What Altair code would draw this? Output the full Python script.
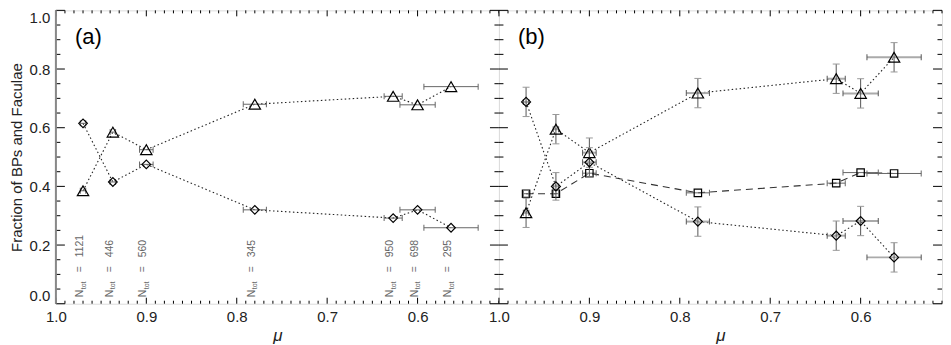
import altair as alt
import pandas as pd

# ---------------- data ----------------
mu = [0.970, 0.937, 0.900, 0.780, 0.627, 0.600, 0.563]
mu_err = [0.003, 0.003, 0.0075, 0.0128, 0.010, 0.0195, 0.030]
n_tot = [1121, 446, 560, 345, 950, 698, 295]

# panel (a)
tri_a = [0.385, 0.585, 0.525, 0.680, 0.707, 0.678, 0.740]
dia_a = [0.615, 0.415, 0.475, 0.320, 0.292, 0.320, 0.259]

# panel (b)
tri_b = [0.310, 0.595, 0.515, 0.718, 0.767, 0.717, 0.840]
tri_b_err = [0.050, 0.050, 0.050, 0.050, 0.050, 0.050, 0.050]
dia_b = [0.688, 0.400, 0.482, 0.280, 0.232, 0.282, 0.158]
dia_b_err = [0.050, 0.047, 0.050, 0.050, 0.050, 0.050, 0.050]
sq_b = [0.375, 0.375, 0.445, 0.378, 0.411, 0.447, 0.444]

x_major = [1.0, 0.9, 0.8, 0.7, 0.6]
x_minor = [round(1.0 - 0.01 * i, 2) for i in range(1, 50) if i % 10]
y_major = [0.0, 0.2, 0.4, 0.6, 0.8, 1.0]
y_minor = [round(0.05 * i, 2) for i in range(21) if i % 4]

W, H = 444, 294
FONT = "Liberation Sans"
xs = alt.Scale(domain=[1.0, 0.51], nice=False, zero=False)
ys = alt.Scale(domain=[0.0, 1.0], nice=False, zero=False)

xaxis = alt.Axis(values=x_major, format=".1f", ticks=False, domain=False, grid=False,
                 labelFontSize=15, labelPadding=6, labelFlush=False, labelOverlap=False,
                 labelColor="#222", title="μ", titleFontSize=17, titleFontStyle="italic",
                 titleFontWeight="normal", titleColor="#222", titlePadding=3)


def yaxis(show):
    if not show:
        return None
    return alt.Axis(values=y_major, format=".1f", ticks=False, domain=False, grid=False,
                    labelFontSize=15, labelPadding=6, labelColor="#222", labelFlush=True,
                    title="Fraction of BPs and Faculae", titleFontSize=15,
                    titleFontWeight="normal", titleColor="#222", titlePadding=5)


def series_df(vals, errs=None):
    d = pd.DataFrame({"mu": mu, "val": vals, "idx": list(range(len(mu)))})
    d["lo"] = [m - e for m, e in zip(mu, mu_err)]
    d["hi"] = [m + e for m, e in zip(mu, mu_err)]
    if errs is not None:
        d["ylo"] = [v - e for v, e in zip(vals, errs)]
        d["yhi"] = [v + e for v, e in zip(vals, errs)]
    return d


def frame_ticks(show_y):
    yt = pd.DataFrame({"v": y_major + y_minor,
                       "major": [True] * len(y_major) + [False] * len(y_minor)})
    xt = pd.DataFrame({"v": x_major + x_minor,
                       "major": [True] * len(x_major) + [False] * len(x_minor)})
    layers = []
    for maj, ly, lx in [(True, 9, 6), (False, 4.5, 3)]:
        ydat = alt.Chart(yt).transform_filter(alt.datum.major == maj)
        xdat = alt.Chart(xt).transform_filter(alt.datum.major == maj)
        st = dict(color="black", strokeWidth=1)
        Yv = alt.Y("v:Q", scale=ys, axis=yaxis(show_y))
        Xv = alt.X("v:Q", scale=xs, axis=xaxis)
        layers.append(ydat.mark_rule(**st).encode(y=Yv, x=alt.value(0), x2=alt.value(ly)))
        layers.append(ydat.mark_rule(**st).encode(y=Yv, x=alt.value(W), x2=alt.value(W - ly)))
        layers.append(xdat.mark_rule(**st).encode(x=Xv, y=alt.value(H), y2=alt.value(H - lx)))
        layers.append(xdat.mark_rule(**st).encode(x=Xv, y=alt.value(0), y2=alt.value(lx)))
    return layers


def series_layers(d, shape, size, dash, show_y, xcol="#666", xw=1, capcol="#666",
                  ycol="#555", ycapcol="#999", line_col="#222", yerr=False):
    X = lambda f: alt.X(f, type="quantitative", scale=xs, axis=xaxis)
    Y = lambda f: alt.Y(f, type="quantitative", scale=ys, axis=yaxis(show_y))
    base = alt.Chart(d)
    layers = []
    layers.append(base.mark_line(strokeDash=dash, strokeWidth=1.1, color=line_col).encode(
        x=X("mu"), y=Y("val"), order="idx:Q"))
    layers.append(base.mark_rule(color=xcol, strokeWidth=xw).encode(
        x=X("lo"), x2="hi", y=Y("val")))
    for f in ["lo", "hi"]:
        layers.append(base.mark_tick(orient="vertical", size=6, thickness=1, color=capcol,
                                     opacity=1).encode(x=X(f), y=Y("val")))
    if yerr:
        layers.append(base.mark_rule(color=ycol, strokeWidth=1).encode(
            x=X("mu"), y=Y("ylo"), y2="yhi"))
        for f in ["ylo", "yhi"]:
            layers.append(base.mark_tick(orient="horizontal", size=7, thickness=1,
                                         color=ycapcol, opacity=1).encode(x=X("mu"), y=Y(f)))
    layers.append(base.mark_point(shape=shape, size=size, filled=False, color="black",
                                  strokeWidth=1.2, opacity=1).encode(x=X("mu"), y=Y("val")))
    return layers


def ntot_layers():
    d = pd.DataFrame({"mu": mu, "n": [str(n) for n in n_tot], "y": [0.022] * len(mu),
                      "N": ["N"] * len(mu), "tot": ["tot"] * len(mu), "eq": ["="] * len(mu)})
    base = alt.Chart(d)
    common = dict(angle=270, align="left", baseline="middle", color="#666", font=FONT)
    enc = dict(x=alt.X("mu:Q", scale=xs, axis=xaxis), y=alt.Y("y:Q", scale=ys, axis=yaxis(True)))
    return [
        base.mark_text(fontSize=10.5, dy=-3, **common).encode(text="N:N", **enc),
        base.mark_text(fontSize=7, dx=8, dy=0.5, **common).encode(text="tot:N", **enc),
        base.mark_text(fontSize=10.5, dx=25, dy=-3, **common).encode(text="eq:N", **enc),
        base.mark_text(fontSize=10.5, dx=40, dy=-3, **common).encode(text="n:N", **enc),
    ]


def panel_label(txt, show_y):
    d = pd.DataFrame({"mu": [0.979], "y": [0.91], "t": [txt]})
    return alt.Chart(d).mark_text(fontSize=22, align="left", baseline="middle",
                                  color="black", font=FONT).encode(
        x=alt.X("mu:Q", scale=xs, axis=xaxis),
        y=alt.Y("y:Q", scale=ys, axis=yaxis(show_y)), text="t:N")


# ---- panel (a)
layers_a = []
layers_a += series_layers(series_df(tri_a), "triangle-up", 130, [1.5, 2.5], True)
layers_a += series_layers(series_df(dia_a), "diamond", 75, [1.5, 2.5], True)
layers_a += ntot_layers()
layers_a.append(panel_label("(a)", True))
layers_a += frame_ticks(True)
layers_a.append(alt.Chart(pd.DataFrame({"v": [0]})).mark_rule(color="#888", strokeWidth=2).encode(
    x=alt.value(0), y=alt.value(0), y2=alt.value(H)))
panel_a = alt.layer(*layers_a).properties(width=W, height=H)

# ---- panel (b)
layers_b = []
layers_b += series_layers(series_df(sq_b), "square", 55, [7, 5], False, line_col="#333")
layers_b += series_layers(series_df(tri_b, tri_b_err), "triangle-up", 130, [1.5, 2.5], False,
                          xcol="#aaa", xw=2, capcol="#555", yerr=True)
layers_b += series_layers(series_df(dia_b, dia_b_err), "diamond", 80, [1.5, 2.5], False,
                          xcol="#aaa", xw=2, capcol="#555", yerr=True)
layers_b.append(panel_label("(b)", False))
layers_b += frame_ticks(False)
panel_b = alt.layer(*layers_b).properties(width=W, height=H)

chart = alt.hconcat(panel_a, panel_b, spacing=0, bounds="flush",
                    padding={"left": 0, "top": 0, "right": 0, "bottom": 0}).configure_view(
    stroke="black", strokeWidth=1.2).configure(font=FONT, background="white")

chart.save("out.html", embed_options={"renderer": "svg", "actions": False})
